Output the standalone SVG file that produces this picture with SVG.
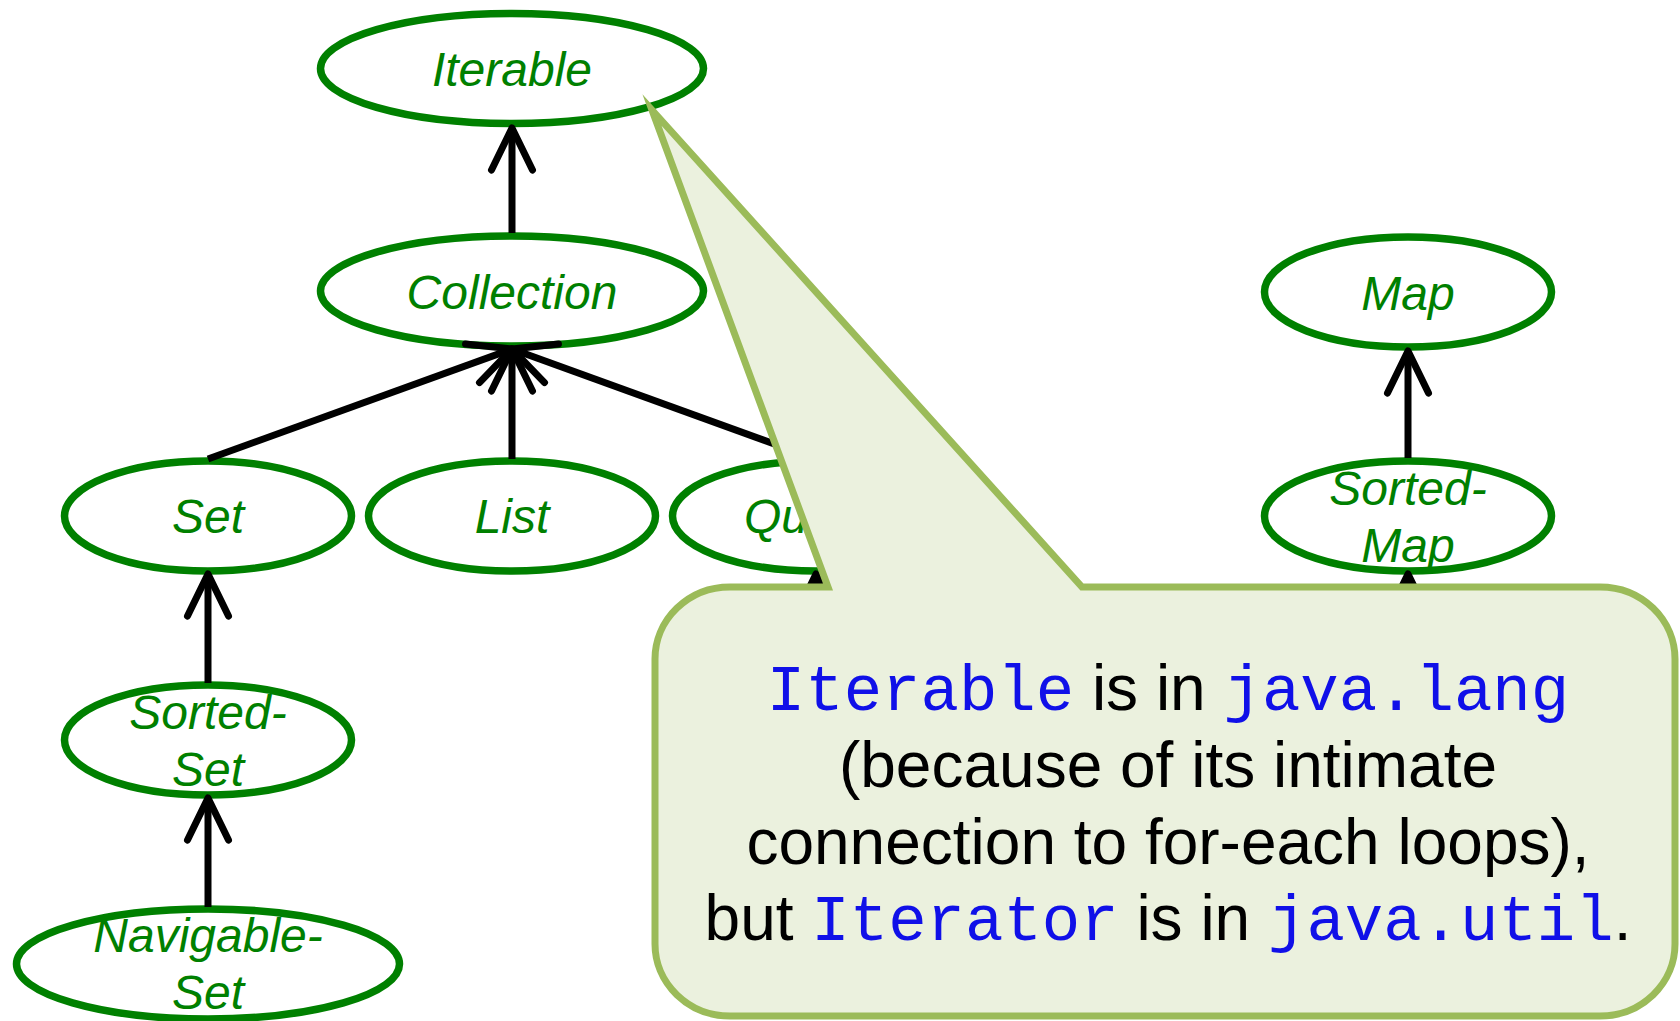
<svg xmlns="http://www.w3.org/2000/svg" width="1680" height="1021" viewBox="0 0 1680 1021">
<style>
.node ellipse{fill:#fff;stroke:#008000;stroke-width:7.5}
.node text{font-family:"Liberation Sans",Arial,sans-serif;font-style:italic;font-size:48px;fill:#008000;text-anchor:middle}
.edge{stroke:#000;stroke-width:7;fill:none;marker-end:url(#ah)}
.callout{fill:#EBF1DE;stroke:#9BBB59;stroke-width:7;stroke-linejoin:miter;stroke-miterlimit:20}
.ct{font-family:"Liberation Sans",Arial,sans-serif;font-size:64px;fill:#000;text-anchor:middle}
.m{font-family:"Liberation Mono","Courier New",monospace;fill:#1010E8}
</style>
<defs>
<marker id="ah" markerUnits="userSpaceOnUse" markerWidth="60" markerHeight="50" refX="0" refY="0" orient="auto" overflow="visible">
<path d="M-42,-20.5 L0,0 L-42,20.5" fill="none" stroke="#000" stroke-width="7" stroke-linecap="round" stroke-linejoin="round"/>
</marker>
</defs>
<g id="n-iterable" class="node"><ellipse cx="512" cy="68.5" rx="191.5" ry="55"/><text x="512" y="86">Iterable</text></g>
<g id="n-collection" class="node"><ellipse cx="512" cy="291" rx="191.5" ry="55"/><text x="512" y="309">Collection</text></g>
<g id="n-set" class="node"><ellipse cx="208" cy="516" rx="143.5" ry="55"/><text x="208" y="533">Set</text></g>
<g id="n-list" class="node"><ellipse cx="512" cy="516" rx="143.5" ry="55"/><text x="512" y="533">List</text></g>
<g id="n-queue" class="node"><ellipse cx="816" cy="516" rx="143.5" ry="55"/><text x="816" y="533">Queue</text></g>
<g id="n-sortedset" class="node"><ellipse cx="208" cy="740" rx="143.5" ry="55"/><text x="208" y="729">Sorted-</text><text x="208" y="786">Set</text></g>
<g id="n-navigableset" class="node"><ellipse cx="208" cy="964" rx="191.5" ry="55"/><text x="208" y="952">Navigable-</text><text x="208" y="1009">Set</text></g>
<g id="n-map" class="node"><ellipse cx="1408" cy="292" rx="143.5" ry="55"/><text x="1408" y="310">Map</text></g>
<g id="n-sortedmap" class="node"><ellipse cx="1408" cy="516" rx="143.5" ry="55"/><text x="1408" y="505">Sorted-</text><text x="1408" y="562">Map</text></g>
<g id="connectors">
<line class="edge" x1="512" y1="233" x2="512" y2="128"/>
<line class="edge" x1="208" y1="459" x2="512" y2="349"/>
<line class="edge" x1="512" y1="459" x2="512" y2="349"/>
<line class="edge" x1="816" y1="459" x2="512" y2="349"/>
<line class="edge" x1="208" y1="683" x2="208" y2="574"/>
<line class="edge" x1="208" y1="907" x2="208" y2="798"/>
<line class="edge" x1="1408" y1="458" x2="1408" y2="351"/>
<line class="edge" x1="816" y1="700" x2="816" y2="574"/>
<line class="edge" x1="1408" y1="700" x2="1408" y2="574"/>
</g>
<g id="callout">
<path class="callout" d="M730,587 L828,587 L652,110 L1082,587 L1600,587 A75,72 0 0 1 1675,659 L1675,944 A75,72 0 0 1 1600,1016 L730,1016 A75,72 0 0 1 655,944 L655,659 A75,72 0 0 1 730,587 Z"/>
<text class="ct" x="1168" y="710"><tspan class="m">Iterable</tspan> is in <tspan class="m">java.lang</tspan></text>
<text class="ct" x="1168" y="787">(because of its intimate</text>
<text class="ct" x="1168" y="864">connection to for-each loops),</text>
<text class="ct" x="1168" y="940">but <tspan class="m">Iterator</tspan> is in <tspan class="m">java.util</tspan>.</text>
</g>
</svg>
